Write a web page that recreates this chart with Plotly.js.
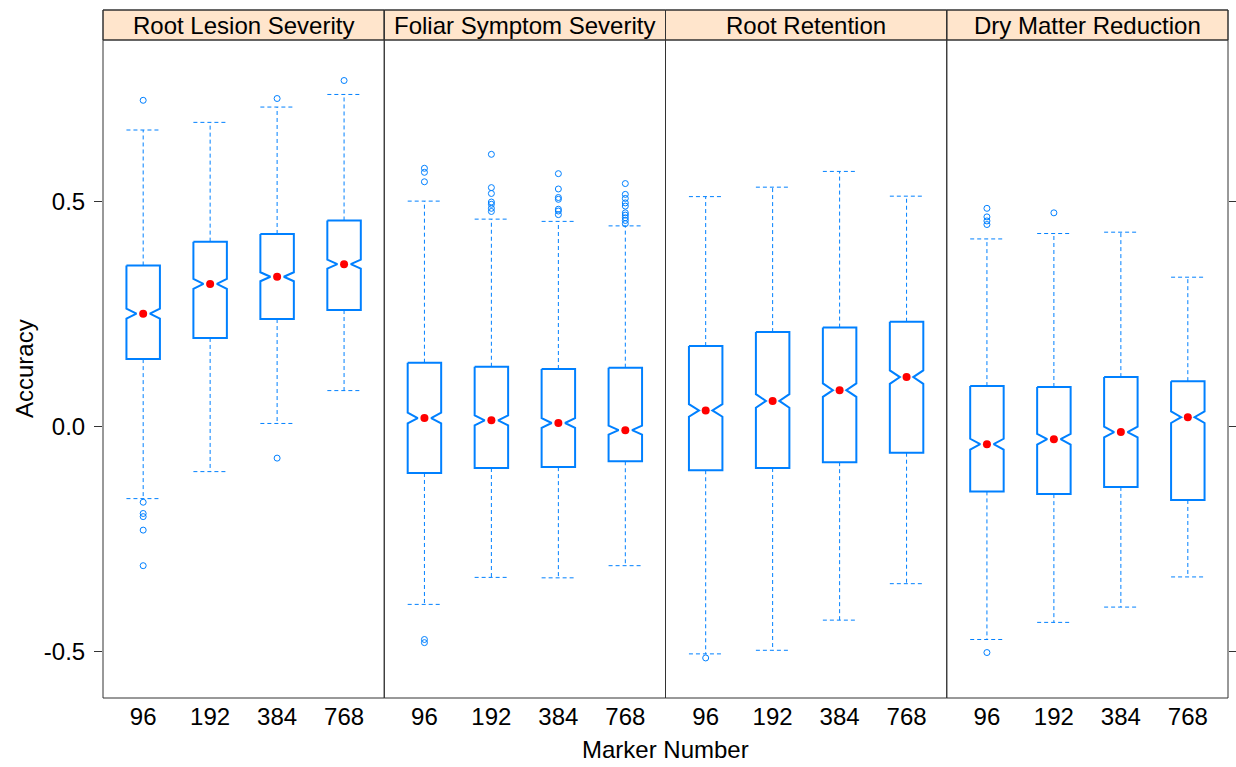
<!DOCTYPE html>
<html>
<head>
<meta charset="utf-8">
<script src="https://cdn.plot.ly/plotly-3.0.1.min.js"></script>
<style>html,body{margin:0;padding:0;background:#fff;}#chart{width:1236px;height:767px;}</style>
</head>
<body>
<div id="chart"></div>
<script>
// ---------- data ----------
const markers = ["96", "192", "384", "768"];
const traits = ["Root Lesion Severity", "Foliar Symptom Severity", "Root Retention", "Dry Matter Reduction"];

// Root Lesion Severity
const rlsQ1 = [0.149, 0.196, 0.238, 0.258];
const rlsMed = [0.250, 0.316, 0.332, 0.360];
const rlsQ3 = [0.357, 0.410, 0.427, 0.457];
const rlsLo = [-0.161, -0.101, 0.006, 0.079];
const rlsHi = [0.658, 0.675, 0.709, 0.737];
const rlsNotch = [0.011, 0.011, 0.010, 0.010];
const rlsOut = [[0.724, -0.169, -0.194, -0.201, -0.231, -0.310], [], [0.728, -0.071], [0.768]];

// Foliar Symptom Severity
const fssQ1 = [-0.104, -0.093, -0.091, -0.078];
const fssMed = [0.018, 0.013, 0.007, -0.009];
const fssQ3 = [0.141, 0.132, 0.127, 0.130];
const fssLo = [-0.396, -0.336, -0.337, -0.310];
const fssHi = [0.500, 0.460, 0.455, 0.445];
const fssNotch = [0.012, 0.011, 0.011, 0.010];
const fssOut = [
  [0.573, 0.564, 0.543, -0.474, -0.481],
  [0.604, 0.530, 0.517, 0.498, 0.493, 0.484, 0.477],
  [0.561, 0.527, 0.508, 0.504, 0.482, 0.478, 0.470],
  [0.539, 0.515, 0.506, 0.496, 0.489, 0.474, 0.469, 0.463, 0.457, 0.450]
];

// Root Retention
const rrQ1 = [-0.098, -0.093, -0.080, -0.059];
const rrMed = [0.035, 0.056, 0.080, 0.109];
const rrQ3 = [0.178, 0.209, 0.219, 0.232];
const rrLo = [-0.506, -0.498, -0.431, -0.350];
const rrHi = [0.510, 0.531, 0.566, 0.511];
const rrNotch = [0.014, 0.015, 0.015, 0.015];
const rrOut = [[-0.515], [], [], []];

// Dry Matter Reduction
const dmrQ1 = [-0.145, -0.151, -0.135, -0.164];
const dmrMed = [-0.040, -0.029, -0.013, 0.020];
const dmrQ3 = [0.089, 0.087, 0.109, 0.100];
const dmrLo = [-0.474, -0.436, -0.402, -0.335];
const dmrHi = [0.416, 0.428, 0.431, 0.331];
const dmrNotch = [0.012, 0.012, 0.012, 0.013];
const dmrOut = [[0.484, 0.465, 0.456, 0.448, -0.503], [0.474], [], []];

const yTickVals = [-0.5, 0, 0.5];
const yTickText = ["-0.5", "0.0", "0.5"];

// ---------- build ----------
const panels = [
  {q1: rlsQ1, med: rlsMed, q3: rlsQ3, lo: rlsLo, hi: rlsHi, notch: rlsNotch, out: rlsOut},
  {q1: fssQ1, med: fssMed, q3: fssQ3, lo: fssLo, hi: fssHi, notch: fssNotch, out: fssOut},
  {q1: rrQ1, med: rrMed, q3: rrQ3, lo: rrLo, hi: rrHi, notch: rrNotch, out: rrOut},
  {q1: dmrQ1, med: dmrMed, q3: dmrQ3, lo: dmrLo, hi: dmrHi, notch: dmrNotch, out: dmrOut}
];

const BLUE = "#0080ff";
const FONT = "Liberation Sans, Arial, sans-serif";
const HALF = 0.25;     // half box width (x units)
const WAIST = 0.4;     // notch waist relative to half width
const CAP = 0.25;      // half cap width

const traces = [];
panels.forEach((p, k) => {
  const xa = k === 0 ? "x" : "x" + (k + 1);
  const ya = k === 0 ? "y" : "y" + (k + 1);
  const bx = [], by = [], wx = [], wy = [], ox = [], oy = [], mx = [], my = [];
  markers.forEach((m, i) => {
    const x = i + 1;
    const n = p.notch[i];
    bx.push(x - HALF, x + HALF, x + HALF, x + HALF * WAIST, x + HALF, x + HALF, x - HALF, x - HALF, x - HALF * WAIST, x - HALF, x - HALF, null);
    by.push(p.q3[i], p.q3[i], p.med[i] + n, p.med[i], p.med[i] - n, p.q1[i], p.q1[i], p.med[i] - n, p.med[i], p.med[i] + n, p.q3[i], null);
    wx.push(x, x, null, x - CAP, x + CAP, null, x, x, null, x - CAP, x + CAP, null);
    wy.push(p.q3[i], p.hi[i], null, p.hi[i], p.hi[i], null, p.q1[i], p.lo[i], null, p.lo[i], p.lo[i], null);
    p.out[i].forEach(v => { ox.push(x); oy.push(v); });
    mx.push(x); my.push(p.med[i]);
  });
  traces.push({type: "scatter", mode: "lines", x: wx, y: wy, xaxis: xa, yaxis: ya,
    line: {color: BLUE, width: 1, dash: "4px,3px"}, hoverinfo: "skip", showlegend: false});
  traces.push({type: "scatter", mode: "lines", x: bx, y: by, xaxis: xa, yaxis: ya,
    line: {color: BLUE, width: 2}, hoverinfo: "skip", showlegend: false});
  traces.push({type: "scatter", mode: "markers", x: ox, y: oy, xaxis: xa, yaxis: ya,
    marker: {symbol: "circle-open", size: 6, color: BLUE, line: {width: 1, color: BLUE}}, hoverinfo: "skip", showlegend: false});
  traces.push({type: "scatter", mode: "markers", x: mx, y: my, xaxis: xa, yaxis: ya,
    marker: {symbol: "circle", size: 8, color: "#ff0000"}, hoverinfo: "skip", showlegend: false});
});

const YR = [-0.604, 0.858];
const layout = {
  width: 1236, height: 767,
  margin: {l: 103, r: 8, t: 40, b: 69},
  paper_bgcolor: "#fff", plot_bgcolor: "#fff",
  font: {family: FONT, size: 24, color: "#000"},
  showlegend: false,
  shapes: [],
  annotations: []
};
const STRIP = 30 / 658;
for (let k = 0; k < 4; k++) {
  const s = k === 0 ? "" : String(k + 1);
  layout["xaxis" + s] = {
    domain: [k * 0.25, (k + 1) * 0.25], anchor: "y" + s, range: [0.4, 4.6],
    tickmode: "array", tickvals: [1, 2, 3, 4], ticktext: markers,
    ticks: "", showgrid: false, zeroline: false, showline: false,
    tickfont: {family: FONT, size: 24, color: "#000"}, ticklabelstandoff: 2, fixedrange: true
  };
  const yax = {
    anchor: "x" + s, range: YR, showgrid: false, zeroline: false, showline: false,
    tickmode: "array", tickvals: yTickVals, ticktext: yTickText, fixedrange: true
  };
  if (k === 0) {
    Object.assign(yax, {ticks: "outside", ticklen: 8, tickcolor: "#333", tickwidth: 1,
      tickfont: {family: FONT, size: 24, color: "#000"}, ticklabelstandoff: 4});
  } else if (k === 3) {
    Object.assign(yax, {matches: "y", side: "right", ticks: "outside", ticklen: 8, tickcolor: "#333", tickwidth: 1, showticklabels: false});
  } else {
    Object.assign(yax, {matches: "y", ticks: "", showticklabels: false});
  }
  layout["yaxis" + s] = yax;
  const xref = "x" + s + " domain";
  layout.shapes.push({type: "rect", xref: xref, yref: "paper", x0: 0, x1: 1, y0: 1, y1: 1 + STRIP,
    fillcolor: "#ffe5cc", line: {color: "#333", width: 1}, layer: "below"});
  layout.shapes.push({type: "rect", xref: xref, yref: "paper", x0: 0, x1: 1, y0: 0, y1: 1 + STRIP,
    fillcolor: "rgba(0,0,0,0)", line: {color: "#333", width: 1}, layer: "above"});
  layout.shapes.push({type: "line", xref: xref, yref: "paper", x0: 0, x1: 1, y0: 1, y1: 1,
    line: {color: "#333", width: 1}, layer: "above"});
  layout.annotations.push({xref: xref, yref: "paper", x: 0.5, y: 1 + STRIP / 2, xanchor: "center", yanchor: "middle",
    text: traits[k], showarrow: false, font: {family: FONT, size: 24, color: "#000"}});
}
layout.annotations.push({xref: "paper", yref: "paper", x: 0.5, y: -0.079, xanchor: "center", yanchor: "middle",
  text: "Marker Number", showarrow: false, font: {family: FONT, size: 24, color: "#000"}});
layout.annotations.push({xref: "paper", yref: "paper", x: -0.0702, y: 0.5, xanchor: "center", yanchor: "middle",
  text: "Accuracy", textangle: -90, showarrow: false, font: {family: FONT, size: 24, color: "#000"}});

Plotly.newPlot("chart", traces, layout, {displayModeBar: false, staticPlot: true});
</script>
</body>
</html>
